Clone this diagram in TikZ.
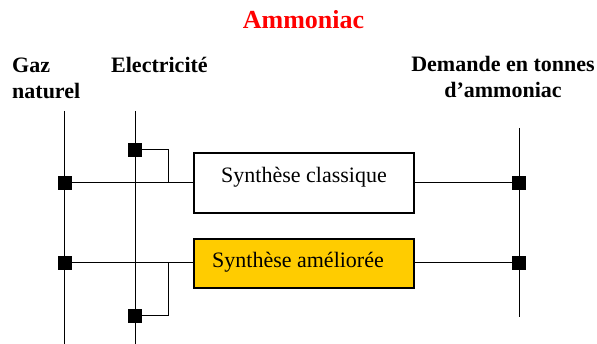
\documentclass[tikz,border=0pt]{standalone}
\usepackage{fontspec}
\setmainfont{Liberation Serif}
\definecolor{boxyellow}{HTML}{FFCC00}
\begin{document}
\begin{tikzpicture}[x=1pt,y=-1pt,
  lbl/.style={font=\fontsize{22}{26}\selectfont\bfseries, inner sep=0pt},
  sq/.style={fill=black, draw=none, minimum size=14pt, inner sep=0pt},
  wire/.style={line width=1pt, draw=black},
  procbox/.style={draw=black, line width=1.2pt, minimum width=220pt, inner sep=0pt,
    font=\fontsize{22}{26}\selectfont}]
\useasboundingbox (0,0) rectangle (597,344);
% title and labels
\node[lbl, text=red, font=\fontsize{26}{30}\selectfont\bfseries, anchor=base] (title) at (303.5,29) {Ammoniac};
\node[lbl, anchor=base west] (gaz1) at (12,73) {Gaz};
\node[lbl, anchor=base west] (gaz2) at (12,99) {naturel};
\node[lbl, anchor=base west] (elec) at (111,73) {Electricité};
\node[lbl, anchor=base] (dem1) at (503,72) {Demande en tonnes};
\node[lbl, anchor=base] (dem2) at (503,98) {d’ammoniac};
% boxes
\node[procbox, fill=white, minimum height=60pt, text height=8pt, text depth=8pt] (boxA) at (304,183) {Synthèse classique};
\node[procbox, fill=boxyellow, minimum height=49pt, text height=15pt, text depth=6pt] (boxB) at (304,263.5) {Synthèse améliorée\hspace*{12pt}};
% squares
\node[sq] (s1) at (64.5,183) {};
\node[sq] (s2) at (135,150) {};
\node[sq] (s3) at (64.5,263) {};
\node[sq] (s4) at (135,316) {};
\node[sq] (s5) at (519,183) {};
\node[sq] (s6) at (519,263) {};
% vertical bus lines
\coordinate (gtop) at (64.5,111);
\coordinate (gbot) at (64.5,344);
\coordinate (etop) at (135,111);
\coordinate (ebot) at (135,344);
\coordinate (dtop) at (519,128);
\coordinate (dbot) at (519,317);
\draw[wire] (gtop) -- (gbot);
\draw[wire] (etop) -- (ebot);
\draw[wire] (dtop) -- (dbot);
% junctions
\coordinate (j1) at (168,183);
\coordinate (j2) at (168,263);
% connectors
\draw[wire] (s1) -- (s1 -| boxA.west);
\draw[wire] (s2) -| (j1);
\draw[wire] (boxA.east |- s5) -- (s5);
\draw[wire] (s3) -- (s3 -| boxB.west);
\draw[wire] (s4) -| (j2);
\draw[wire] (boxB.east |- s6) -- (s6);
\end{tikzpicture}
\end{document}
